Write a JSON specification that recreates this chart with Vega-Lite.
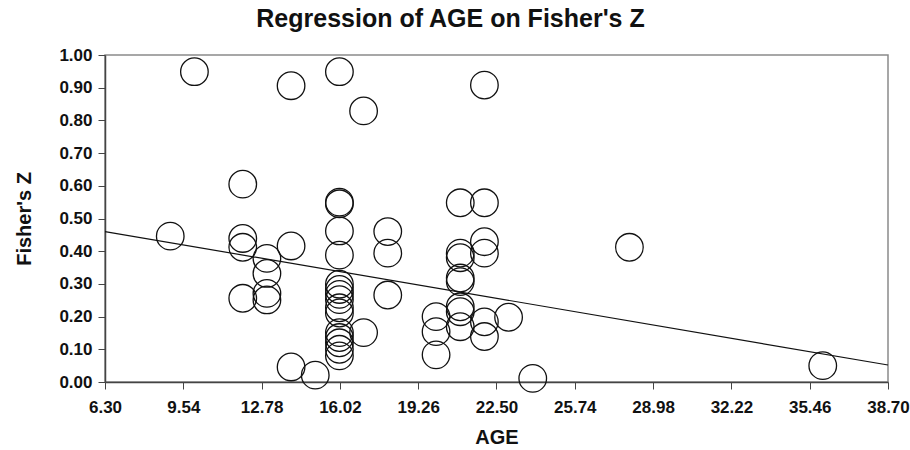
{
  "$schema": "https://vega.github.io/schema/vega-lite/v6.json",
  "width": 783,
  "height": 327,
  "autosize": {"type": "none"},
  "padding": {"left": 105, "top": 55, "right": 22, "bottom": 68},
  "background": "white",
  "title": {
    "text": "Regression of AGE on Fisher's Z",
    "font": "Liberation Sans",
    "fontSize": 25,
    "fontWeight": "bold",
    "color": "#111",
    "anchor": "middle",
    "dx": -46,
    "offset": 14
  },
  "config": {
    "view": {"stroke": "#8a8a8a", "strokeWidth": 1.5},
    "axis": {
      "grid": false,
      "domainColor": "#444",
      "domainWidth": 1.5,
      "tickColor": "#444",
      "tickSize": 7,
      "labelFont": "Liberation Sans",
      "labelFontSize": 17,
      "labelFontWeight": "bold",
      "labelColor": "#111",
      "labelOverlap": false,
      "titleFont": "Liberation Sans",
      "titleFontSize": 20,
      "titleFontWeight": "bold",
      "titleColor": "#111"
    }
  },
  "datasets": {
    "points": [
      {"AGE": 9, "Z": 0.446},
      {"AGE": 10, "Z": 0.949},
      {"AGE": 12, "Z": 0.605},
      {"AGE": 12, "Z": 0.439},
      {"AGE": 12, "Z": 0.412},
      {"AGE": 12, "Z": 0.256},
      {"AGE": 13, "Z": 0.378},
      {"AGE": 13, "Z": 0.332},
      {"AGE": 13, "Z": 0.271},
      {"AGE": 13, "Z": 0.251},
      {"AGE": 14, "Z": 0.906},
      {"AGE": 14, "Z": 0.416},
      {"AGE": 14, "Z": 0.046},
      {"AGE": 15, "Z": 0.021},
      {"AGE": 16, "Z": 0.949},
      {"AGE": 16, "Z": 0.55},
      {"AGE": 16, "Z": 0.545},
      {"AGE": 16, "Z": 0.462},
      {"AGE": 16, "Z": 0.388},
      {"AGE": 16, "Z": 0.299},
      {"AGE": 16, "Z": 0.283},
      {"AGE": 16, "Z": 0.268},
      {"AGE": 16, "Z": 0.252},
      {"AGE": 16, "Z": 0.227},
      {"AGE": 16, "Z": 0.211},
      {"AGE": 16, "Z": 0.151},
      {"AGE": 16, "Z": 0.136},
      {"AGE": 16, "Z": 0.12},
      {"AGE": 16, "Z": 0.1},
      {"AGE": 16, "Z": 0.08},
      {"AGE": 17, "Z": 0.829},
      {"AGE": 17, "Z": 0.151},
      {"AGE": 18, "Z": 0.46},
      {"AGE": 18, "Z": 0.394},
      {"AGE": 18, "Z": 0.266},
      {"AGE": 20, "Z": 0.2},
      {"AGE": 20, "Z": 0.154},
      {"AGE": 20, "Z": 0.083},
      {"AGE": 21, "Z": 0.548},
      {"AGE": 21, "Z": 0.394},
      {"AGE": 21, "Z": 0.38},
      {"AGE": 21, "Z": 0.318},
      {"AGE": 21, "Z": 0.307},
      {"AGE": 21, "Z": 0.23},
      {"AGE": 21, "Z": 0.215},
      {"AGE": 21, "Z": 0.169},
      {"AGE": 22, "Z": 0.908},
      {"AGE": 22, "Z": 0.548},
      {"AGE": 22, "Z": 0.429},
      {"AGE": 22, "Z": 0.394},
      {"AGE": 22, "Z": 0.184},
      {"AGE": 22, "Z": 0.139},
      {"AGE": 23, "Z": 0.198},
      {"AGE": 24, "Z": 0.011},
      {"AGE": 28, "Z": 0.412},
      {"AGE": 36, "Z": 0.05}
    ],
    "fit": [
      {"AGE": 6.3, "Z": 0.46},
      {"AGE": 38.7, "Z": 0.052}
    ]
  },
  "encoding": {
    "x": {
      "field": "AGE",
      "type": "quantitative",
      "title": "AGE",
      "scale": {"domain": [6.3, 38.7], "nice": false, "zero": false},
      "axis": {
        "values": [6.3, 9.54, 12.78, 16.02, 19.26, 22.5, 25.74, 28.98, 32.22, 35.46, 38.7],
        "format": ".2f",
        "labelPadding": 10,
        "titlePadding": 12,
        "labelOverlap": false,
        "labelFlush": false
      }
    },
    "y": {
      "field": "Z",
      "type": "quantitative",
      "title": "Fisher's Z",
      "scale": {"domain": [0, 1], "nice": false, "zero": false},
      "axis": {
        "values": [0, 0.1, 0.2, 0.3, 0.4, 0.5, 0.6, 0.7, 0.8, 0.9, 1],
        "format": ".2f",
        "labelPadding": 6,
        "titlePadding": 24,
        "labelOverlap": false,
        "labelFlush": false
      }
    }
  },
  "layer": [
    {
      "data": {"name": "fit"},
      "mark": {"type": "line", "color": "#111", "strokeWidth": 1.2}
    },
    {
      "data": {"name": "points"},
      "mark": {"type": "point", "shape": "circle", "filled": false, "stroke": "#111", "strokeWidth": 1.3, "size": 760, "opacity": 1}
    }
  ]
}
